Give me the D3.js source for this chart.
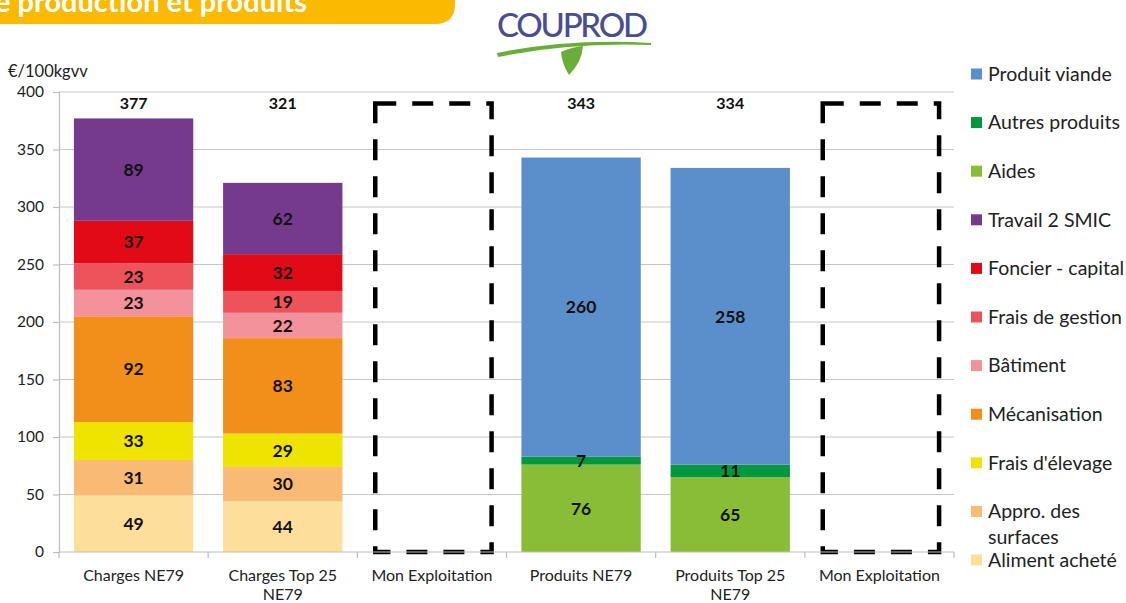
<!DOCTYPE html>
<html>
<head>
<meta charset="utf-8">
<script src="https://cdn.jsdelivr.net/npm/d3@7"></script>
<style>
    html, body { margin: 0; padding: 0; background: #fff; }
    svg { display: block; font-family: Lato, "Open Sans", sans-serif; }
</style>
</head>
<body>
<svg id="chart" width="1126" height="603"></svg>
<script>
// Stacked bars: charges vs produits per 100 kg live weight
const categoryIds = ["chNE79", "chTop25", "monExpl1", "prNE79", "prTop25", "monExpl2"];
const categoryLabels = [["Charges NE79"], ["Charges Top 25", "NE79"], ["Mon Exploitation"],
    ["Produits NE79"], ["Produits Top 25", "NE79"], ["Mon Exploitation"]];

// series, bottom of the stack first
const seriesNames = ["Aliment acheté", "Appro. des surfaces", "Frais d'élevage", "Mécanisation",
    "Bâtiment", "Frais de gestion", "Foncier - capital", "Travail 2 SMIC",
    "Aides", "Autres produits", "Produit viande"];
const alimentAchete   = [49, 44, 0, 0, 0, 0];
const approSurfaces   = [31, 30, 0, 0, 0, 0];
const fraisElevage    = [33, 29, 0, 0, 0, 0];
const mecanisation    = [92, 83, 0, 0, 0, 0];
const batiment        = [23, 22, 0, 0, 0, 0];
const fraisGestion    = [23, 19, 0, 0, 0, 0];
const foncierCapital  = [37, 32, 0, 0, 0, 0];
const travail2Smic    = [89, 62, 0, 0, 0, 0];
const aides           = [0, 0, 0, 76, 65, 0];
const autresProduits  = [0, 0, 0, 7, 11, 0];
const produitViande   = [0, 0, 0, 260, 258, 0];
const seriesValues = [alimentAchete, approSurfaces, fraisElevage, mecanisation, batiment,
    fraisGestion, foncierCapital, travail2Smic, aides, autresProduits, produitViande];
const seriesColors = ["#FDDF9B", "#F8BA74", "#EFE300", "#F18F1B", "#F3929B",
    "#EC535A", "#E20A16", "#763A8C", "#8ABD36", "#00983F", "#5B8FCB"];

const emptyFrames = ["monExpl1", "monExpl2"];   // dashed "Mon Exploitation" boxes
const frameTop = 390;
const yTicks = [0, 50, 100, 150, 200, 250, 300, 350, 400];

const svg = d3.select("#chart");

// orange title banner, cut at the top of the page
svg.append("path")
    .attr("d", "M0,0 H455 V4 Q455,24 435,24 H0 Z")
    .attr("fill", "#FBBA00");
svg.append("text")
    .attr("x", -5).attr("y", 12)
    .attr("fill", "#fff")
    .attr("font-size", 29).attr("font-weight", 700)
    .text("e production et produits");

// COUPROD logo
const logo = svg.append("g");
logo.append("text")
    .attr("x", 497).attr("y", 37)
    .attr("fill", "#4A4D8E")
    .attr("font-size", 33)
    .attr("font-weight", 500)
    .attr("textLength", 151)
    .text("COUPROD");
logo.append("path")
    .attr("d", "M497,53 Q570,38 651,43 L651,45 Q570,42 498,57 Z")
    .attr("fill", "#6AAE3A");
logo.append("path")
    .attr("d", "M561,52 Q572,47 583,46 Q582,62 569,75 Q562,64 561,52 Z")
    .attr("fill", "#6AAE3A");

const plotLeft = 59, plotRight = 954, plotTop = 92, plotBottom = 552;

const x = d3.scaleBand()
    .domain(categoryIds)
    .range([plotLeft, plotRight])
    .paddingInner(0.2)
    .paddingOuter(0.1);
const y = d3.scaleLinear().domain([0, 400]).range([plotBottom, plotTop]);

// gridlines
svg.append("g")
    .selectAll("line")
    .data(yTicks.filter(d => d > 0))
    .join("line")
    .attr("x1", plotLeft).attr("x2", plotRight)
    .attr("y1", d => y(d)).attr("y2", d => y(d))
    .attr("stroke", "#C6C6C6").attr("stroke-width", 1.2);

// y axis
const yAxis = svg.append("g")
    .attr("transform", `translate(${plotLeft},0)`)
    .call(d3.axisLeft(y).tickValues(yTicks).tickSize(6).tickPadding(9));
yAxis.select(".domain").attr("stroke", "#BDBDBD").attr("stroke-width", 1.2);
yAxis.selectAll(".tick line").attr("stroke", "#BDBDBD").attr("stroke-width", 1.2);
yAxis.selectAll(".tick text")
    .attr("font-family", "Lato, sans-serif")
    .attr("font-size", 15.5)
    .attr("fill", "#222");

svg.append("text")
    .attr("x", 8).attr("y", 77)
    .attr("font-size", 16.5).attr("fill", "#222")
    .text("€/100kgvv");

// stacked segments
const table = categoryIds.map((id, i) => {
    const row = { id };
    seriesNames.forEach((s, j) => { row[s] = seriesValues[j][i]; });
    return row;
});
const stacked = d3.stack().keys(seriesNames)(table);

const layers = svg.append("g")
    .selectAll("g")
    .data(stacked)
    .join("g")
    .attr("fill", (d, i) => seriesColors[i]);

layers.selectAll("rect")
    .data(d => d.filter(p => p[1] > p[0]))
    .join("rect")
    .attr("x", d => x(d.data.id))
    .attr("width", x.bandwidth())
    .attr("y", d => y(d[1]))
    .attr("height", d => y(d[0]) - y(d[1]));

// segment labels
svg.append("g")
    .selectAll("g")
    .data(stacked)
    .join("g")
    .selectAll("text")
    .data(d => d.filter(p => p[1] > p[0]))
    .join("text")
    .attr("x", d => x(d.data.id) + x.bandwidth() / 2)
    .attr("y", d => y((d[0] + d[1]) / 2))
    .attr("dy", "0.36em")
    .attr("text-anchor", "middle")
    .attr("font-size", 17.5).attr("font-weight", 700)
    .attr("fill", "#111")
    .text(d => d[1] - d[0]);

// totals above the bars
const totals = categoryIds.map((id, i) => ({ id, total: d3.sum(seriesValues, s => s[i]) }));
svg.append("g")
    .selectAll("text")
    .data(totals.filter(d => d.total > 0))
    .join("text")
    .attr("x", d => x(d.id) + x.bandwidth() / 2)
    .attr("y", y(frameTop))
    .attr("dy", "0.36em")
    .attr("text-anchor", "middle")
    .attr("font-size", 16).attr("font-weight", 700)
    .attr("fill", "#111")
    .text(d => d.total);

// dashed empty frames
svg.append("g")
    .selectAll("path")
    .data(emptyFrames)
    .join("path")
    .attr("d", d => {
        const x0 = x(d) + 3, x1 = x(d) + x.bandwidth();
        return `M${x0},${y(frameTop)} H${x1} V${y(0)} H${x0} Z`;
    })
    .attr("fill", "none")
    .attr("stroke", "#000")
    .attr("stroke-width", 4.5)
    .attr("stroke-dasharray", "21 16");

// x axis line with separators between categories
svg.append("line")
    .attr("x1", plotLeft).attr("x2", plotRight)
    .attr("y1", plotBottom).attr("y2", plotBottom)
    .attr("stroke", "#BDBDBD").attr("stroke-width", 1.2);
const sepX = d3.range(categoryIds.length + 1).map(i => plotLeft + i * x.step());
svg.append("g")
    .selectAll("line")
    .data(sepX)
    .join("line")
    .attr("x1", d => d).attr("x2", d => d)
    .attr("y1", plotBottom).attr("y2", plotBottom + 6)
    .attr("stroke", "#BDBDBD").attr("stroke-width", 1.2);

svg.append("g")
    .selectAll("text")
    .data(categoryIds)
    .join("text")
    .attr("x", d => x(d) + x.bandwidth() / 2)
    .attr("y", 581)
    .attr("text-anchor", "middle")
    .attr("font-size", 16).attr("fill", "#222")
    .each(function (d, i) {
        d3.select(this).selectAll("tspan")
            .data(categoryLabels[i])
            .join("tspan")
            .attr("x", x(d) + x.bandwidth() / 2)
            .attr("dy", (t, k) => k === 0 ? 0 : 19)
            .text(t => t);
    });

// legend, top of the stack first
const legendOrder = d3.range(seriesNames.length).reverse();
const legendLines = { "Appro. des surfaces": ["Appro. des", "surfaces"] };
const legend = svg.append("g")
    .selectAll("g")
    .data(legendOrder)
    .join("g")
    .attr("transform", (d, i) => `translate(971,${74 + i * 48.6})`);
legend.append("rect")
    .attr("x", 0).attr("y", -5.5)
    .attr("width", 11).attr("height", 11)
    .attr("fill", d => seriesColors[d]);
legend.append("text")
    .attr("x", 17).attr("y", 0)
    .attr("font-size", 19.5).attr("fill", "#222")
    .each(function (d) {
        const lines = legendLines[seriesNames[d]] || [seriesNames[d]];
        d3.select(this).selectAll("tspan")
            .data(lines)
            .join("tspan")
            .attr("x", 17)
            .attr("dy", (t, k) => k === 0 ? "0.35em" : 26)
            .text(t => t);
    });
</script>
</body>
</html>
